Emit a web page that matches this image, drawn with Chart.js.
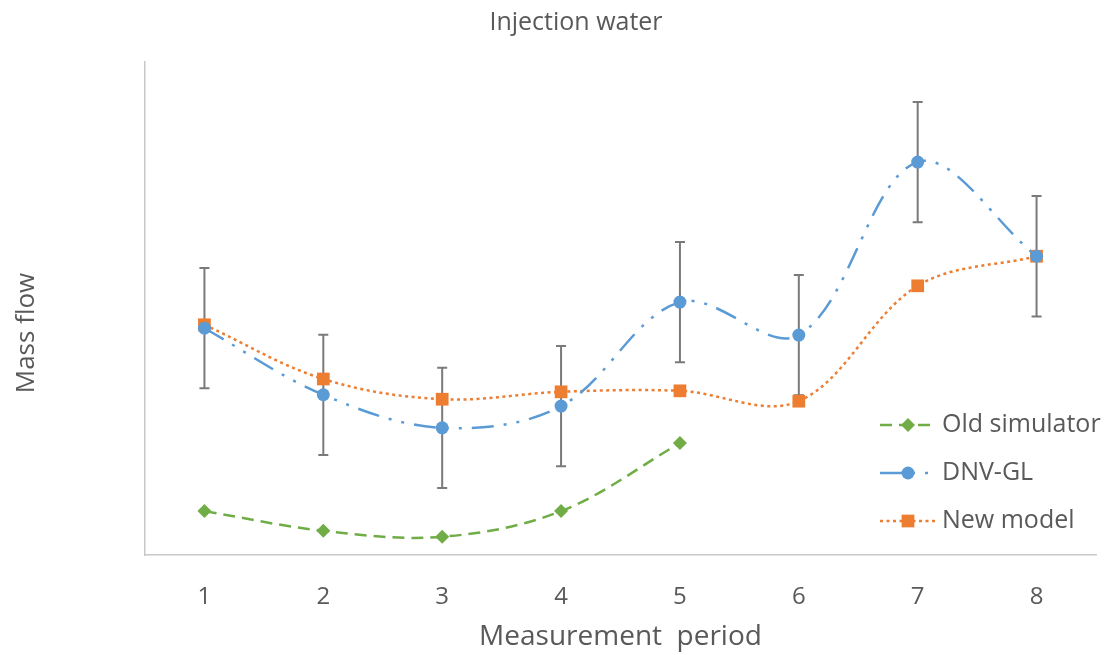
<!DOCTYPE html>
<html>
<head>
<meta charset="utf-8">
<script src="https://cdn.jsdelivr.net/npm/chart.js@4"></script>
<style>
  html, body { margin: 0; padding: 0; background: #fff; }
</style>
</head>
<body>
<canvas id="myChart" width="1105" height="655"></canvas>
<script>
  const periods      = ['1', '2', '3', '4', '5', '6', '7', '8'];
  const oldSimulator = [8.9, 4.9, 3.7, 8.9, 22.7];
  const dnvGl        = [46.0, 32.5, 25.8, 30.2, 51.3, 44.6, 79.7, 60.6];
  const dnvGlError   = [12.2, 12.2, 12.2, 12.2, 12.2, 12.2, 12.2, 12.2];
  const newModel     = [46.7, 35.7, 31.6, 33.1, 33.3, 31.2, 54.6, 60.6];

  const green  = '#70ad47';
  const blue   = '#5b9bd5';
  const orange = '#ed7d31';
  const textColor = '#595959';
  const font = "'Open Sans', sans-serif";

  // error bars go under the markers
  const errorBars = {
    id: 'errorBars',
    beforeDatasetsDraw(chart) {
      const { ctx, scales: { x, y } } = chart;
      ctx.save();
      ctx.strokeStyle = '#7a7a7a';
      ctx.lineWidth = 2;
      dnvGl.forEach((v, i) => {
        const px  = x.getPixelForValue(i);
        const top = y.getPixelForValue(v + dnvGlError[i]);
        const bot = y.getPixelForValue(v - dnvGlError[i]);
        ctx.beginPath();
        ctx.moveTo(px, top); ctx.lineTo(px, bot);
        ctx.moveTo(px - 5, top); ctx.lineTo(px + 5, top);
        ctx.moveTo(px - 5, bot); ctx.lineTo(px + 5, bot);
        ctx.stroke();
      });
      ctx.restore();
    }
  };

  // title, y title and the legend sit where excel put them
  const extraText = {
    id: 'extraText',
    afterDraw(chart) {
      const ctx = chart.ctx;
      ctx.save();
      ctx.fillStyle = textColor;
      ctx.textBaseline = 'middle';

      ctx.font = `25px ${font}`;
      ctx.textAlign = 'center';
      ctx.fillText('Injection water', 576, 23);

      ctx.save();
      ctx.translate(27, 333);
      ctx.rotate(-Math.PI / 2);
      ctx.font = `26px ${font}`;
      ctx.fillText('Mass flow', 0, 0);
      ctx.restore();

      const rows = [425, 473, 521];
      ctx.font = `25px ${font}`;
      ctx.textAlign = 'left';
      chart.data.datasets.forEach((ds, i) => {
        const yy = rows[i];
        ctx.save();
        ctx.strokeStyle = ds.borderColor;
        ctx.lineWidth = ds.borderWidth;
        ctx.setLineDash(ds.borderDash || []);
        ctx.beginPath();
        ctx.moveTo(880, yy);
        ctx.lineTo(937, yy);
        ctx.stroke();
        ctx.restore();
        ctx.fillStyle = ds.pointBackgroundColor;
        ctx.strokeStyle = ds.pointBackgroundColor;
        Chart.helpers.drawPoint(ctx, {
          pointStyle: ds.pointStyle,
          radius: ds.pointRadius,
          rotation: 0,
          borderWidth: 0
        }, 908, yy);
        ctx.fillStyle = textColor;
        ctx.fillText(ds.label, 942, yy);
      });
      ctx.restore();
    }
  };

  const ctx = document.getElementById('myChart');
  new Chart(ctx, {
    type: 'line',
    data: {
      labels: [...periods],
      datasets: [
        {
          label: 'Old simulator',
          data: [...oldSimulator],
          borderColor: green,
          borderWidth: 2.5,
          borderDash: [12, 7],
          pointStyle: 'rectRot',
          pointRadius: 7,
          pointBackgroundColor: green,
          pointBorderWidth: 0,
          tension: 0.35
        },
        {
          label: 'DNV-GL',
          data: [...dnvGl],
          borderColor: blue,
          borderWidth: 2.5,
          borderDash: [22, 10, 3, 10, 3, 10],
          pointStyle: 'circle',
          pointRadius: 6.5,
          pointBackgroundColor: blue,
          pointBorderWidth: 0,
          tension: 0.35
        },
        {
          label: 'New model',
          data: [...newModel],
          borderColor: orange,
          borderWidth: 2.5,
          borderDash: [3, 3.5],
          pointStyle: 'rect',
          pointRadius: 9,
          pointBackgroundColor: orange,
          pointBorderWidth: 0,
          tension: 0.35
        }
      ]
    },
    options: {
      responsive: false,
      animation: false,
      layout: { padding: { top: 62, right: 6, left: 0, bottom: 0 } },
      plugins: {
        legend: { display: false },
        title: { display: false },
        tooltip: { enabled: false }
      },
      scales: {
        x: {
          offset: true,
          grid: { display: false },
          border: { display: true, color: '#c8c8c8', width: 1.5 },
          ticks: { color: textColor, font: { family: font, size: 24 }, padding: 20 },
          title: {
            display: true,
            text: 'Measurement  period',
            color: textColor,
            font: { family: font, size: 28 },
            padding: { top: 0, bottom: 1 }
          },
          afterFit: (s) => { s.height = 100; }
        },
        y: {
          min: 0,
          max: 100,
          grid: { display: false },
          border: { display: true, color: '#c8c8c8', width: 1.5 },
          ticks: { display: false },
          afterFit: (s) => { s.width = 145; }
        }
      }
    },
    plugins: [errorBars, extraText]
  });
</script>
</body>
</html>
